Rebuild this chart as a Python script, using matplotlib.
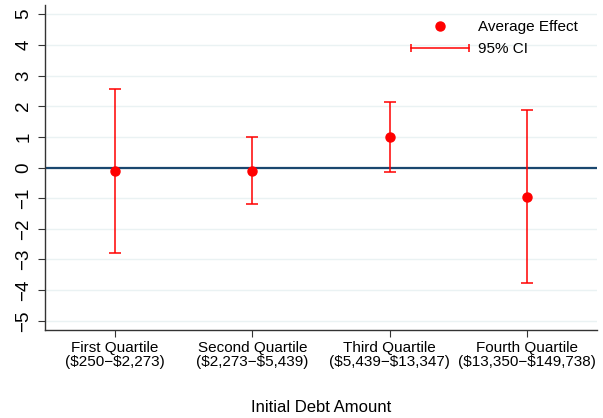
import matplotlib
matplotlib.use("Agg")
import matplotlib.pyplot as plt
from matplotlib.lines import Line2D
from matplotlib.legend_handler import HandlerLine2D

plt.rcParams["font.family"] = ["Liberation Sans", "DejaVu Sans"]

# data
quartiles = ["First Quartile\n(\\$250\u2212\\$2,273)",
             "Second Quartile\n(\\$2,273\u2212\\$5,439)",
             "Third Quartile\n(\\$5,439\u2212\\$13,347)",
             "Fourth Quartile\n(\\$13,350\u2212\\$149,738)"]
effect = [-0.13, -0.10, 0.99, -0.96]
ci_low = [-2.80, -1.19, -0.16, -3.76]
ci_high = [2.56, 1.00, 2.15, 1.87]
yticks = list(range(-5, 6))

pos = list(range(1, len(quartiles) + 1))
err_lo = [e - l for e, l in zip(effect, ci_low)]
err_hi = [h - e for e, h in zip(effect, ci_high)]

fig = plt.figure(figsize=(6.03, 4.18), dpi=100)
ax = fig.add_axes([0.0746, 0.2105, 0.9154, 0.7775])

for y in yticks:
    ax.axhline(y, color="#eaf2f3", lw=1.0, zorder=0)
ax.axhline(0, color="#1a476f", lw=1.6, zorder=1)

ax.errorbar(pos, effect, yerr=[err_lo, err_hi], fmt="none", ecolor="red",
            elinewidth=1.1, capsize=4.5, capthick=1.1, zorder=2)
ax.plot(pos, effect, "o", color="red", ms=6.5, zorder=3)

ax.set_xlim(0.49, 4.51)
ax.set_ylim(-5.3, 5.3)
ax.set_yticks(yticks)
ax.set_yticklabels([str(t).replace("-", "\u2212") for t in yticks],
                   rotation=90, va="center", fontsize=13.5)
ax.set_xticks(pos)
ax.set_xticklabels(quartiles, fontsize=11, linespacing=1.0)
ax.tick_params(axis="y", length=5, width=0.8, pad=4, colors="#333333",
               labelcolor="black")
ax.tick_params(axis="x", length=5, width=0.8, pad=3, colors="#333333",
               labelcolor="black")
for s in ["top", "right"]:
    ax.spines[s].set_visible(False)
for s in ["left", "bottom"]:
    ax.spines[s].set_color("#333333")
    ax.spines[s].set_linewidth(1.0)

ax.set_xlabel("Initial Debt Amount", fontsize=12, labelpad=22)

h_eff = Line2D([], [], color="red", marker="o", ls="none", ms=6.5)
h_ci = Line2D([], [], color="red", marker="|", lw=1.1, ms=6, mew=1.1)
ax.legend([h_eff, h_ci], ["Average Effect", "95% CI"],
          handler_map={h_eff: HandlerLine2D(numpoints=1),
                       h_ci: HandlerLine2D(numpoints=2, marker_pad=0)},
          loc="upper right", bbox_to_anchor=(0.99, 0.995), frameon=False,
          fontsize=11, handlelength=3.8, handletextpad=0.6,
          labelspacing=0.5)

fig.savefig("out.png", dpi=100)
